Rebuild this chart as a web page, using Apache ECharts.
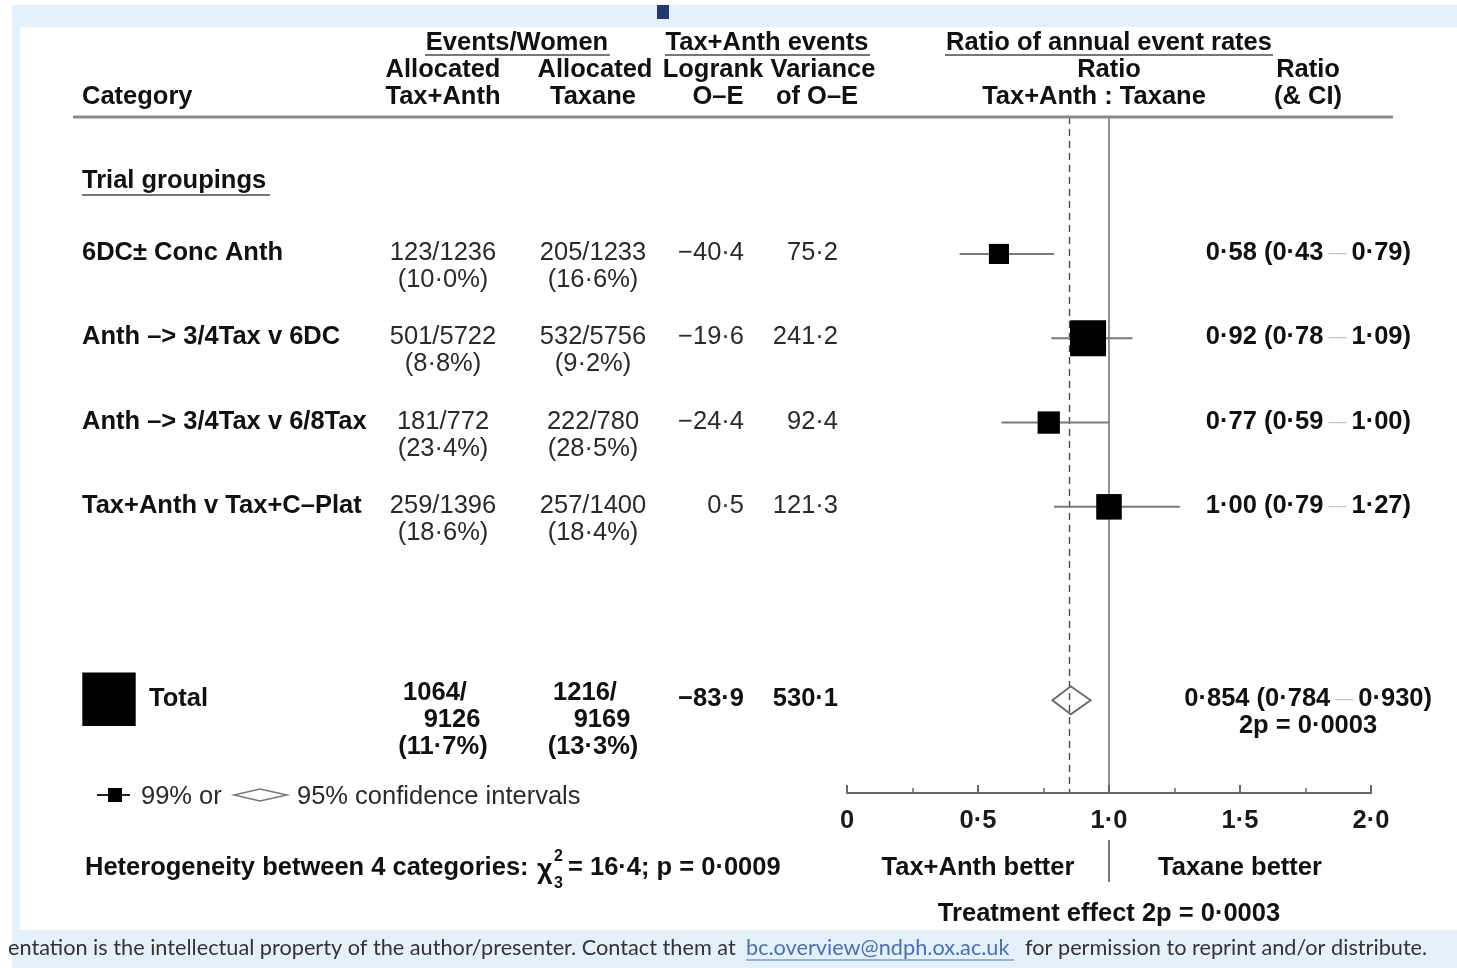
<!DOCTYPE html>
<html><head><meta charset="utf-8">
<script src="https://cdn.jsdelivr.net/npm/echarts@6/dist/echarts.min.js"></script>
<style>html,body{margin:0;padding:0;background:#fff;}#c{width:1457px;height:968px;}</style>
</head><body><div id="c"></div>
<script>
// ---- data ----
const categories = ['6DC± Conc Anth', 'Anth –> 3/4Tax v 6DC', 'Anth –> 3/4Tax v 6/8Tax', 'Tax+Anth v Tax+C–Plat'];
const eventsTaxAnth = [123, 501, 181, 259];
const womenTaxAnth = [1236, 5722, 772, 1396];
const pctTaxAnth = [10.0, 8.8, 23.4, 18.6];
const eventsTaxane = [205, 532, 222, 257];
const womenTaxane = [1233, 5756, 780, 1400];
const pctTaxane = [16.6, 9.2, 28.5, 18.4];
const logrankOE = [-40.4, -19.6, -24.4, 0.5];
const varianceOE = [75.2, 241.2, 92.4, 121.3];
const ratio = [0.58, 0.92, 0.77, 1.00];
const ciLow = [0.43, 0.78, 0.59, 0.79];
const ciHigh = [0.79, 1.09, 1.00, 1.27];
const totalTaxAnth = [1064, 9126, 11.7];
const totalTaxane = [1216, 9169, 13.3];
const totalOE = -83.9;
const totalVariance = 530.1;
const totalRatio = [0.854, 0.784, 0.930];
const totalP = 0.0003;
const heterogeneity = [16.4, 3, 0.0009]; // chi2, df, p
const xTickLabels = ['0', '0·5', '1·0', '1·5', '2·0'];

// ---- helpers ----
const FF = '"Liberation Sans", Arial, Helvetica, sans-serif';
const FS = 25.5;
const DY = 2;
function fmt(v, d) { return (v < 0 ? '−' : '') + Math.abs(v).toFixed(d).replace('.', '·'); }
function fmtP(v) { return v.toFixed(4).replace('.', '·'); }
const SQ_K = 2.32; // square side ∝ sqrt(variance)

const rowUnit = i => 1.625 + i;
const totalUnit = 6.92;
const groupUnit = 0.77;

const chart = echarts.init(document.getElementById('c'), null, { renderer: 'canvas' });

const rowData = categories.map((c, i) => [rowUnit(i), ciLow[i], ratio[i], ciHigh[i], varianceOE[i]]);

chart.setOption({
  animation: false,
  backgroundColor: '#ffffff',
  grid: { left: 847, right: 86, top: 117, bottom: 175, containLabel: false, z: 5 },
  xAxis: {
    type: 'value', min: 0, max: 2, interval: 0.5, z: 5, position: 'bottom',
    axisLine: { show: true, onZero: false, lineStyle: { color: '#666', width: 2 } },
    axisTick: { show: true, inside: true, length: 8, lineStyle: { color: '#666', width: 2 } },
    minorTick: { show: true, splitNumber: 2, length: 5, lineStyle: { color: '#666', width: 1.5 } },
    splitLine: { show: false },
    axisLabel: { formatter: v => xTickLabels[Math.round(v / 0.5)], fontFamily: FF, fontSize: FS, fontWeight: 'bold', color: '#1a1a1a', margin: 15 }
  },
  yAxis: { type: 'value', min: 0, max: 8.02, inverse: true, show: false },
  series: [
    {
      type: 'custom', z: 5,
      data: rowData,
      encode: { x: [1, 2, 3], y: 0 },
      renderItem: (params, api) => {
        const y = api.value(0);
        const p1 = api.coord([api.value(1), y]);
        const p2 = api.coord([api.value(3), y]);
        const pc = api.coord([api.value(2), y]);
        const s = SQ_K * Math.sqrt(api.value(4));
        return { type: 'group', children: [
          { type: 'line', shape: { x1: p1[0], y1: p1[1], x2: p2[0], y2: p2[1] }, style: { stroke: '#7a7a7a', lineWidth: 2 } },
          { type: 'rect', shape: { x: pc[0] - s / 2, y: pc[1] - s / 2, width: s, height: s }, style: { fill: '#000' } }
        ] };
      }
    },
    {
      type: 'custom', z: 6,
      data: [[totalUnit, totalRatio[1], totalRatio[0], totalRatio[2]]],
      encode: { x: [1, 2, 3], y: 0 },
      renderItem: (params, api) => {
        const y = api.value(0);
        const pl = api.coord([api.value(1), y]);
        const pc = api.coord([api.value(2), y]);
        const ph = api.coord([api.value(3), y]);
        const h = 14;
        return { type: 'polygon', shape: { points: [[pl[0], pl[1]], [pc[0], pc[1] - h], [ph[0], ph[1]], [pc[0], pc[1] + h]] },
          style: { fill: 'rgba(255,255,255,0)', stroke: '#666', lineWidth: 1.8 } };
      },
      markLine: {
        silent: true, symbol: 'none', label: { show: false },
        data: [
          { xAxis: 1, lineStyle: { type: 'solid', color: '#777', width: 1.6 } },
          { xAxis: totalRatio[0], lineStyle: { type: [7, 5], color: '#444', width: 1.3 } }
        ]
      }
    }
  ]
});

// ---- text & decoration ----
const g = [];
function T(x, y, text, o = {}) {
  g.push({ type: 'text', x, y: y + DY, silent: true, z: 10,
    style: Object.assign({ text, fontFamily: FF, fontSize: FS, fontWeight: o.bold ? 'bold' : 'normal',
      fill: o.bold ? '#111' : '#2a2a2a', textAlign: o.align || 'left', textVerticalAlign: 'middle' }, o.style || {}) });
}
function L(x1, y1, x2, y2, color, w, extra) {
  g.push({ type: 'line', silent: true, z: 9, shape: { x1, y1, x2, y2 }, style: Object.assign({ stroke: color, lineWidth: w }, extra || {}) });
}
function R(x, y, w, h, fill, z) {
  g.push({ type: 'rect', silent: true, z: z, shape: { x, y, width: w, height: h }, style: { fill } });
}

// slide background (behind everything)
R(12, 5, 1445, 963, '#e4f1fb', -20);
R(20, 27, 1437, 903, '#ffffff', -19);
R(657, 5, 12, 14, '#213b72', -18);

const py = u => chart.convertToPixel({ gridIndex: 0 }, [1, u])[1];
const px = v => chart.convertToPixel({ gridIndex: 0 }, [v, 0])[0];

// header
T(517, 41, 'Events/Women', { bold: true, align: 'center' });
T(767, 41, 'Tax+Anth events', { bold: true, align: 'center' });
T(1109, 41, 'Ratio of annual event rates', { bold: true, align: 'center' });
L(425, 55, 610, 55, '#777', 2);
L(665, 55, 870, 55, '#777', 2);
L(945, 55, 1273, 55, '#777', 2);
T(443, 68, 'Allocated', { bold: true, align: 'center' });
T(595, 68, 'Allocated', { bold: true, align: 'center' });
T(713, 68, 'Logrank', { bold: true, align: 'center' });
T(823, 68, 'Variance', { bold: true, align: 'center' });
T(1109, 68, 'Ratio', { bold: true, align: 'center' });
T(1308, 68, 'Ratio', { bold: true, align: 'center' });
T(82, 95, 'Category', { bold: true });
T(443, 95, 'Tax+Anth', { bold: true, align: 'center' });
T(593, 95, 'Taxane', { bold: true, align: 'center' });
T(718, 95, 'O–E', { bold: true, align: 'center' });
T(817, 95, 'of O–E', { bold: true, align: 'center' });
T(1094, 95, 'Tax+Anth : Taxane', { bold: true, align: 'center' });
T(1308, 95, '(& CI)', { bold: true, align: 'center' });
L(73, 117, 1393, 117, '#8a8a8a', 3);

// group heading
const gy = py(groupUnit);
T(82, gy - 3, 'Trial groupings', { bold: true });
L(82, gy + 13, 270, gy + 13, '#777', 2);

const ciRich = {
  b: { fontFamily: FF, fontSize: FS, fontWeight: 'bold', fill: '#111', color: '#111' },
  d: { fontFamily: FF, fontSize: 18, fontWeight: 'normal', fill: '#c4c4c4', color: '#c4c4c4' }
};
function ciText(x, y, est, lo, hi, d) {
  g.push({ type: 'text', x, y: y + DY, silent: true, z: 10,
    style: { text: '{b|' + fmt(est, d) + ' (' + fmt(lo, d) + '}{d| — }{b|' + fmt(hi, d) + ')}', rich: ciRich,
      textAlign: 'right', textVerticalAlign: 'middle', fontFamily: FF, fontSize: FS } });
}

categories.forEach((c, i) => {
  const y = py(rowUnit(i)) - 3;
  T(82, y, c, { bold: true });
  T(443, y, eventsTaxAnth[i] + '/' + womenTaxAnth[i], { align: 'center' });
  T(443, y + 27, '(' + fmt(pctTaxAnth[i], 1) + '%)', { align: 'center' });
  T(593, y, eventsTaxane[i] + '/' + womenTaxane[i], { align: 'center' });
  T(593, y + 27, '(' + fmt(pctTaxane[i], 1) + '%)', { align: 'center' });
  T(744, y, fmt(logrankOE[i], 1), { align: 'right' });
  T(838, y, fmt(varianceOE[i], 1), { align: 'right' });
  ciText(1411, y, ratio[i], ciLow[i], ciHigh[i], 2);
});

// total row
const ty = py(totalUnit) - 3;
const ts = SQ_K * Math.sqrt(totalVariance);
R(109 - ts / 2, ty + 2 - ts / 2, ts, ts, '#000', 10);
T(149, ty, 'Total', { bold: true });
T(435, ty - 6, totalTaxAnth[0] + '/', { bold: true, align: 'center' });
T(452, ty + 21, String(totalTaxAnth[1]), { bold: true, align: 'center' });
T(443, ty + 48, '(' + fmt(totalTaxAnth[2], 1) + '%)', { bold: true, align: 'center' });
T(585, ty - 6, totalTaxane[0] + '/', { bold: true, align: 'center' });
T(602, ty + 21, String(totalTaxane[1]), { bold: true, align: 'center' });
T(593, ty + 48, '(' + fmt(totalTaxane[2], 1) + '%)', { bold: true, align: 'center' });
T(744, ty, fmt(totalOE, 1), { bold: true, align: 'right' });
T(838, ty, fmt(totalVariance, 1), { bold: true, align: 'right' });
ciText(1432, ty, totalRatio[0], totalRatio[1], totalRatio[2], 3);
T(1308, ty + 27, '2p = ' + fmtP(totalP), { bold: true, align: 'center' });

// legend
L(97, 795, 130, 795, '#222', 2);
R(108, 788, 14, 14, '#000', 10);
T(141, 795, '99% or');
g.push({ type: 'polygon', silent: true, z: 10, shape: { points: [[234, 795], [260, 789], [287, 795], [260, 801]] }, style: { fill: '#fff', stroke: '#777', lineWidth: 1.5 } });
L(260, 789, 260, 801, '#777', 1.5);
T(297, 795, '95% confidence intervals');

// heterogeneity
T(85, 866, 'Heterogeneity between 4 categories:', { bold: true });
T(537, 869, 'χ', { bold: true, style: { fontSize: 27 } });
T(554, 855, String(heterogeneity[1] - 1), { bold: true, style: { fontSize: 16 } });
T(554, 882, String(heterogeneity[1]), { bold: true, style: { fontSize: 16 } });
T(568, 866, '= ' + fmt(heterogeneity[0], 1) + '; p = ' + fmtP(heterogeneity[2]), { bold: true });

// axis footnotes
const x1 = px(1);
T(px(0.5), 866, 'Tax+Anth better', { bold: true, align: 'center' });
T(px(1.5), 866, 'Taxane better', { bold: true, align: 'center' });
L(x1, 840, x1, 882, '#777', 2);
T(x1, 912, 'Treatment effect 2p = ' + fmtP(totalP), { bold: true, align: 'center' });

// footer
const FF2 = 'Lato, "Open Sans", sans-serif';
const FS2 = 21.7;
g.push({ type: 'text', x: 8, y: 948, silent: true, z: 10, style: { text: 'entation is the intellectual property of the author/presenter. Contact them at', fontFamily: FF2, fontSize: FS2, fill: '#333', textVerticalAlign: 'middle' } });
g.push({ type: 'text', x: 746, y: 948, silent: true, z: 10, style: { text: 'bc.overview@ndph.ox.ac.uk', fontFamily: FF2, fontSize: FS2, fill: '#4a6fb5', textVerticalAlign: 'middle' } });
L(746, 960, 1014, 960, '#4a6fb5', 1);
g.push({ type: 'text', x: 1025, y: 948, silent: true, z: 10, style: { text: 'for permission to reprint and/or distribute.', fontFamily: FF2, fontSize: FS2, fill: '#333', textVerticalAlign: 'middle' } });

chart.setOption({ graphic: { elements: g } });
</script>
</body></html>
